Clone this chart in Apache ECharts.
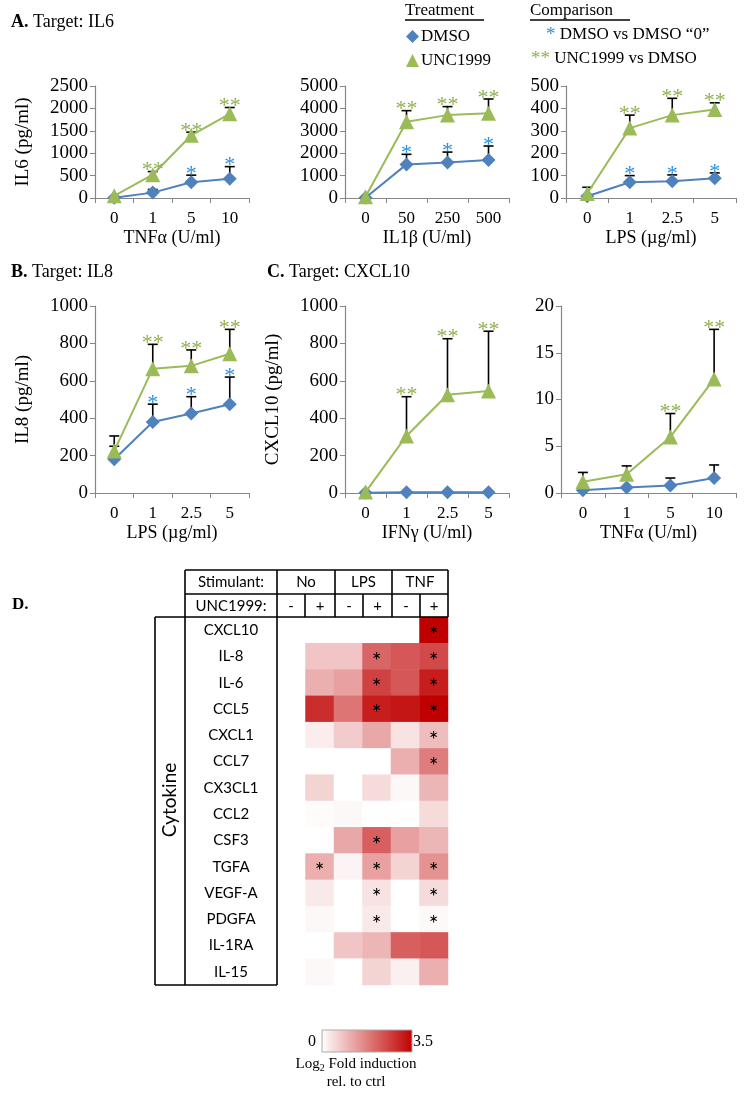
<!DOCTYPE html>
<html>
<head>
<meta charset="utf-8">
<title>UNC1999 cytokines</title>
<script src="https://cdn.jsdelivr.net/npm/echarts@6/dist/echarts.min.js"></script>
<style>
    html, body { margin: 0; padding: 0; background: #fff; }
    #main { width: 748px; height: 1098px; }
</style>
</head>
<body>
<div id="main"></div>
<script>
var serif = '"Liberation Serif", "Times New Roman", serif';
var sans = 'Lato, "Open Sans", sans-serif';

// A. IL6 after TNFa
var il6TnfDose = ['0', '1', '5', '10'];
var il6TnfDmso = [5, 120, 350, 430];
var il6TnfDmsoHi = [5, 190, 510, 700];
var il6TnfUnc = [50, 520, 1400, 1880];
var il6TnfUncHi = [50, 590, 1470, 2020];
var il6TnfDmsoStar = [0, 0, 1, 1];
var il6TnfUncStar = [0, 1, 1, 1];

// A. IL6 after IL1b
var il6Il1Dose = ['0', '50', '250', '500'];
var il6Il1Dmso = [10, 1500, 1580, 1700];
var il6Il1DmsoHi = [10, 1950, 2050, 2320];
var il6Il1Unc = [60, 3400, 3700, 3780];
var il6Il1UncHi = [60, 3900, 4080, 4420];
var il6Il1DmsoStar = [0, 1, 1, 1];
var il6Il1UncStar = [0, 1, 1, 1];

// A. IL6 after LPS
var il6LpsDose = ['0', '1', '2.5', '5'];
var il6LpsDmso = [8, 70, 75, 88];
var il6LpsDmsoHi = [8, 100, 103, 112];
var il6LpsUnc = [20, 312, 370, 395];
var il6LpsUncHi = [48, 370, 445, 425];
var il6LpsDmsoStar = [0, 1, 1, 1];
var il6LpsUncStar = [0, 1, 1, 1];

// B. IL8 after LPS
var il8LpsDose = ['0', '1', '2.5', '5'];
var il8LpsDmso = [180, 380, 425, 475];
var il8LpsDmsoHi = [250, 475, 515, 620];
var il8LpsUnc = [225, 665, 680, 745];
var il8LpsUncHi = [305, 795, 765, 875];
var il8LpsDmsoStar = [0, 1, 1, 1];
var il8LpsUncStar = [0, 1, 1, 1];

// C. CXCL10 after IFNg
var cxIfnDose = ['0', '1', '2.5', '5'];
var cxIfnDmso = [2, 4, 4, 4];
var cxIfnDmsoHi = [2, 4, 4, 4];
var cxIfnUnc = [5, 305, 525, 545];
var cxIfnUncHi = [5, 515, 825, 865];
var cxIfnDmsoStar = [0, 0, 0, 0];
var cxIfnUncStar = [0, 1, 1, 1];

// C. CXCL10 after TNFa
var cxTnfDose = ['0', '1', '5', '10'];
var cxTnfDmso = [0.3, 0.6, 0.8, 1.6];
var cxTnfDmsoHi = [0.3, 0.6, 1.6, 3.0];
var cxTnfUnc = [1.2, 2.0, 6.0, 12.2];
var cxTnfUncHi = [2.2, 2.9, 8.5, 17.5];
var cxTnfDmsoStar = [0, 0, 0, 0];
var cxTnfUncStar = [0, 0, 1, 1];

// D. heatmap
var stimulants = ['No', 'LPS', 'TNF'];
var uncFlags = ['-', '+'];
var cytokines = ['CXCL10', 'IL-8', 'IL-6', 'CCL5', 'CXCL1', 'CCL7', 'CX3CL1',
    'CCL2', 'CSF3', 'TGFA', 'VEGF-A', 'PDGFA', 'IL-1RA', 'IL-15'];
var foldValues = [
    [0, 0, 0, 0, 0, 3.5],
    [0, 0.8, 0.8, 2.1, 2.3, 2.5],
    [0, 1.1, 1.3, 2.6, 2.3, 3.1],
    [0, 2.9, 1.9, 3.1, 3.2, 3.5],
    [0, 0.25, 0.7, 1.2, 0.4, 0.9],
    [0, 0, 0, 0, 1.1, 1.8],
    [0, 0.6, 0, 0.5, 0.1, 1.0],
    [0, 0.05, 0.1, 0.02, 0.02, 0.5],
    [0, 0, 1.2, 2.2, 1.3, 1.0],
    [0, 1.1, 0.15, 1.3, 0.6, 1.5],
    [0, 0.3, 0, 0.4, 0, 0.5],
    [0, 0.1, 0, 0.3, 0, 0.08],
    [0, 0, 0.8, 1.0, 2.2, 2.3],
    [0, 0.1, 0, 0.6, 0.2, 1.1]
];
var foldStars = [
    [0, 0, 0, 0, 0, 1],
    [0, 0, 0, 1, 0, 1],
    [0, 0, 0, 1, 0, 1],
    [0, 0, 0, 1, 0, 1],
    [0, 0, 0, 0, 0, 1],
    [0, 0, 0, 0, 0, 1],
    [0, 0, 0, 0, 0, 0],
    [0, 0, 0, 0, 0, 0],
    [0, 0, 0, 1, 0, 0],
    [0, 1, 0, 1, 0, 1],
    [0, 0, 0, 1, 0, 1],
    [0, 0, 0, 1, 0, 1],
    [0, 0, 0, 0, 0, 0],
    [0, 0, 0, 0, 0, 0]
];
var foldRange = [0, 3.5];

var blue = '#4f81bd';
var green = '#9bbb59';
var starBlue = '#2b8fe0';
var starGreen = '#8fb04f';
var axisGray = '#868686';
var heatLow = '#ffffff';
var heatHigh = '#c00000';

var panels = [
    {cats: il6TnfDose, d: il6TnfDmso, dHi: il6TnfDmsoHi, u: il6TnfUnc, uHi: il6TnfUncHi,
     dS: il6TnfDmsoStar, uS: il6TnfUncStar, max: 2500, step: 500,
     xName: 'TNFα (U/ml)', yName: 'IL6 (pg/ml)', box: [95, 86, 154, 112]},
    {cats: il6Il1Dose, d: il6Il1Dmso, dHi: il6Il1DmsoHi, u: il6Il1Unc, uHi: il6Il1UncHi,
     dS: il6Il1DmsoStar, uS: il6Il1UncStar, max: 5000, step: 1000,
     xName: 'IL1β (U/ml)', yName: '', box: [345, 86, 164, 112]},
    {cats: il6LpsDose, d: il6LpsDmso, dHi: il6LpsDmsoHi, u: il6LpsUnc, uHi: il6LpsUncHi,
     dS: il6LpsDmsoStar, uS: il6LpsUncStar, max: 500, step: 100,
     xName: 'LPS (µg/ml)', yName: '', box: [566, 86, 170, 112]},
    {cats: il8LpsDose, d: il8LpsDmso, dHi: il8LpsDmsoHi, u: il8LpsUnc, uHi: il8LpsUncHi,
     dS: il8LpsDmsoStar, uS: il8LpsUncStar, max: 1000, step: 200,
     xName: 'LPS (µg/ml)', yName: 'IL8 (pg/ml)', box: [95, 306, 154, 187]},
    {cats: cxIfnDose, d: cxIfnDmso, dHi: cxIfnDmsoHi, u: cxIfnUnc, uHi: cxIfnUncHi,
     dS: cxIfnDmsoStar, uS: cxIfnUncStar, max: 1000, step: 200,
     xName: 'IFNγ (U/ml)', yName: 'CXCL10 (pg/ml)', box: [345, 306, 164, 187]},
    {cats: cxTnfDose, d: cxTnfDmso, dHi: cxTnfDmsoHi, u: cxTnfUnc, uHi: cxTnfUncHi,
     dS: cxTnfDmsoStar, uS: cxTnfUncStar, max: 20, step: 5,
     xName: 'TNFα (U/ml)', yName: '', box: [561, 306, 175, 187]}
];

function errBar(params, api) {
    var v = api.value(1), hi = api.value(2);
    if (!(hi > v)) return null;
    var p0 = api.coord([api.value(0), v]);
    var p1 = api.coord([api.value(0), hi]);
    var st = {stroke: '#000', lineWidth: 1.6};
    return {type: 'group', children: [
        {type: 'line', shape: {x1: p0[0], y1: p0[1], x2: p1[0], y2: p1[1]}, style: st},
        {type: 'line', shape: {x1: p1[0] - 5, y1: p1[1], x2: p1[0] + 5, y2: p1[1]}, style: st}
    ]};
}

function starMark(txt, color, size, font) {
    return function (params, api) {
        var p = api.coord([api.value(0), api.value(1)]);
        return {type: 'text', x: p[0], y: p[1] + size * 0.45,
            style: {text: txt, fill: color, font: size + 'px ' + font, align: 'center', verticalAlign: 'bottom'}};
    };
}

var grids = [], xAxes = [], yAxes = [], series = [];

panels.forEach(function (p, i) {
    grids.push({left: p.box[0], top: p.box[1], width: p.box[2], height: p.box[3]});
    xAxes.push({
        type: 'category', gridIndex: i, data: p.cats, boundaryGap: true,
        name: p.xName, nameLocation: 'middle', nameGap: 31,
        nameTextStyle: {fontFamily: serif, fontSize: 18, color: '#000'},
        axisLine: {lineStyle: {color: axisGray, width: 1.2}},
        axisTick: {show: true, length: 5, interval: 0, lineStyle: {color: axisGray}},
        axisLabel: {fontFamily: serif, fontSize: 17, color: '#000', margin: 12}
    });
    yAxes.push({
        type: 'value', gridIndex: i, min: 0, max: p.max, interval: p.step,
        name: p.yName, nameLocation: 'middle', nameGap: 62,
        nameTextStyle: {fontFamily: serif, fontSize: 19, color: '#000'},
        splitLine: {show: false},
        axisLine: {show: true, lineStyle: {color: axisGray, width: 1.2}},
        axisTick: {show: true, length: 5, lineStyle: {color: axisGray}},
        axisLabel: {fontFamily: serif, fontSize: 19, color: '#000', margin: 7,
            formatter: function (v) { return String(v); }}
    });
    var idx = p.cats.map(function (c, k) { return k; });
    series.push({
        type: 'custom', xAxisIndex: i, yAxisIndex: i, renderItem: errBar, z: 1,
        data: idx.map(function (k) { return [k, p.d[k], p.dHi[k]]; })
    });
    series.push({
        type: 'custom', xAxisIndex: i, yAxisIndex: i, renderItem: errBar, z: 1,
        data: idx.map(function (k) { return [k, p.u[k], p.uHi[k]]; })
    });
    series.push({
        name: 'DMSO', type: 'line', xAxisIndex: i, yAxisIndex: i, z: 3,
        data: p.d, symbol: 'diamond', symbolSize: 14, showAllSymbol: true,
        lineStyle: {color: blue, width: 2}, itemStyle: {color: blue}
    });
    series.push({
        name: 'UNC1999', type: 'line', xAxisIndex: i, yAxisIndex: i, z: 4,
        data: p.u, symbol: 'triangle', symbolSize: 15, showAllSymbol: true,
        lineStyle: {color: green, width: 2}, itemStyle: {color: green}
    });
    series.push({
        type: 'custom', xAxisIndex: i, yAxisIndex: i, z: 5,
        renderItem: starMark('*', starBlue, 22, serif),
        data: idx.filter(function (k) { return p.dS[k]; }).map(function (k) { return [k, p.dHi[k]]; })
    });
    series.push({
        type: 'custom', xAxisIndex: i, yAxisIndex: i, z: 5,
        renderItem: starMark('**', starGreen, 22, serif),
        data: idx.filter(function (k) { return p.uS[k]; }).map(function (k) { return [k, p.uHi[k]]; })
    });
});

// heatmap grid
var hIdx = panels.length;
var heatCols = [];
stimulants.forEach(function (s) { uncFlags.forEach(function (f) { heatCols.push(s + f); }); });
grids.push({left: 277, top: 617, width: 171, height: 368});
xAxes.push({type: 'category', gridIndex: hIdx, data: heatCols, show: false});
yAxes.push({
    type: 'category', gridIndex: hIdx, data: cytokines, inverse: true,
    axisLine: {show: false}, axisTick: {show: false}, splitLine: {show: false},
    axisLabel: {align: 'center', margin: 46, fontFamily: sans, fontSize: 15, color: '#000'}
});
var heatData = [], starData = [];
foldValues.forEach(function (row, r) {
    row.forEach(function (v, c) {
        heatData.push([c, r, v]);
        if (foldStars[r][c]) starData.push([c, r]);
    });
});
var heatSeriesIndex = series.length;
series.push({
    type: 'heatmap', xAxisIndex: hIdx, yAxisIndex: hIdx, data: heatData,
    itemStyle: {borderWidth: 0}, emphasis: {disabled: true}
});
series.push({
    type: 'custom', xAxisIndex: hIdx, yAxisIndex: hIdx, z: 5,
    renderItem: function (params, api) {
        var p = api.coord([api.value(0), api.value(1)]);
        return {type: 'text', x: p[0], y: p[1] + 5,
            style: {text: '*', fill: '#000', font: '23px ' + sans, align: 'center', verticalAlign: 'middle'}};
    },
    data: starData
});

// table frame and header
var colX = [277, 305, 335, 363, 392, 420, 448];
var g = [];
function seg(x1, y1, x2, y2) {
    g.push({type: 'line', shape: {x1: x1, y1: y1, x2: x2, y2: y2}, style: {stroke: '#000', lineWidth: 1.6}, z: 10});
}
seg(185, 570, 448, 570);
seg(185, 594, 448, 594);
seg(155, 617, 448, 617);
seg(185, 570, 185, 985);
seg(155, 617, 155, 985);
seg(155, 985, 277, 985);
seg(277, 570, 277, 985);
seg(448, 570, 448, 617);
seg(335, 570, 335, 617);
seg(392, 570, 392, 617);
[305, 363, 420].forEach(function (x) { seg(x, 594, x, 617); });
var hdrFont = '15px ' + sans;
g.push({type: 'text', x: 231, y: 582, style: {text: 'Stimulant:', font: hdrFont, fill: '#000', align: 'center', verticalAlign: 'middle'}});
g.push({type: 'text', x: 231, y: 606, style: {text: 'UNC1999:', font: hdrFont, fill: '#000', align: 'center', verticalAlign: 'middle'}});
stimulants.forEach(function (s, k) {
    g.push({type: 'text', x: (colX[2 * k] + colX[2 * k + 2]) / 2, y: 582,
        style: {text: s, font: hdrFont, fill: '#000', align: 'center', verticalAlign: 'middle'}});
    uncFlags.forEach(function (f, j) {
        var c = 2 * k + j;
        g.push({type: 'text', x: (colX[c] + colX[c + 1]) / 2, y: 606,
            style: {text: f, font: hdrFont, fill: '#000', align: 'center', verticalAlign: 'middle'}});
    });
});
g.push({type: 'text', x: 170, y: 800, rotation: Math.PI / 2,
    style: {text: 'Cytokine', font: '19px ' + sans, fill: '#000', align: 'center', verticalAlign: 'middle'}});
g.push({type: 'text', x: 12, y: 605,
    style: {text: 'D.', font: 'bold 17px ' + serif, fill: '#000', verticalAlign: 'middle'}});

// legend headings
var lgFont = '17px ' + serif;
g.push({type: 'text', x: 405, y: 11, style: {text: 'Treatment', font: lgFont, fill: '#000', verticalAlign: 'middle'}});
seg(405, 20, 484, 20);
g.push({type: 'text', x: 530, y: 11, style: {text: 'Comparison', font: lgFont, fill: '#000', verticalAlign: 'middle'}});
seg(530, 20, 630, 20);
g.push({type: 'text', x: 546, y: 35, style: {
    text: '{b|*} DMSO vs DMSO “0”', font: lgFont, fill: '#000', verticalAlign: 'middle',
    rich: {b: {fill: starBlue, font: '19px ' + serif}}}});
g.push({type: 'text', x: 531, y: 59, style: {
    text: '{b|**} UNC1999 vs DMSO', font: lgFont, fill: '#000', verticalAlign: 'middle',
    rich: {b: {fill: starGreen, font: '19px ' + serif}}}});

// colour bar
g.push({type: 'rect', shape: {x: 322, y: 1030, width: 90, height: 22}, z: 10,
    style: {stroke: '#aaa', lineWidth: 1, fill: {type: 'linear', x: 0, y: 0, x2: 1, y2: 0,
        colorStops: [{offset: 0, color: heatLow}, {offset: 1, color: heatHigh}]}}});
g.push({type: 'text', x: 316, y: 1042, style: {text: String(foldRange[0]), font: '16px ' + serif, fill: '#000', align: 'right', verticalAlign: 'middle'}});
g.push({type: 'text', x: 413, y: 1042, style: {text: String(foldRange[1]), font: '16px ' + serif, fill: '#000', align: 'left', verticalAlign: 'middle'}});
g.push({type: 'text', x: 356, y: 1064, style: {
    text: '{a|Log}{s|2}{a| Fold induction}', align: 'center', verticalAlign: 'middle',
    rich: {a: {font: '15px ' + serif, fill: '#000'}, s: {font: '10px ' + serif, fill: '#000', padding: [8, 0, 0, 0]}}}});
g.push({type: 'text', x: 356, y: 1082, style: {text: 'rel. to ctrl', font: '15px ' + serif, fill: '#000', align: 'center', verticalAlign: 'middle'}});

var myChart = echarts.init(document.getElementById('main'));
myChart.setOption({
    animation: false,
    backgroundColor: '#fff',
    title: [
        {text: '{b|A.} Target: IL6', left: 6, top: 8, textStyle: {fontFamily: serif, fontSize: 18, fontWeight: 'normal', color: '#000', rich: {b: {fontFamily: serif, fontSize: 18, fontWeight: 'bold', color: '#000'}}}},
        {text: '{b|B.} Target: IL8', left: 6, top: 258, textStyle: {fontFamily: serif, fontSize: 18, fontWeight: 'normal', color: '#000', rich: {b: {fontFamily: serif, fontSize: 18, fontWeight: 'bold', color: '#000'}}}},
        {text: '{b|C.} Target: CXCL10', left: 262, top: 258, textStyle: {fontFamily: serif, fontSize: 18, fontWeight: 'normal', color: '#000', rich: {b: {fontFamily: serif, fontSize: 18, fontWeight: 'bold', color: '#000'}}}}
    ],
    legend: {
        data: [{name: 'DMSO', icon: 'diamond'}, {name: 'UNC1999', icon: 'triangle'}],
        orient: 'vertical', left: 401, top: 23, itemGap: 7, itemWidth: 13, itemHeight: 13,
        selectedMode: false,
        textStyle: {fontFamily: serif, fontSize: 17, color: '#000', padding: [0, 0, 0, -3]}
    },
    visualMap: {
        type: 'continuous', show: false, min: foldRange[0], max: foldRange[1],
        seriesIndex: heatSeriesIndex,
        inRange: {color: [heatLow, heatHigh]}
    },
    grid: grids,
    xAxis: xAxes,
    yAxis: yAxes,
    series: series,
    graphic: g
});
</script>
</body>
</html>
